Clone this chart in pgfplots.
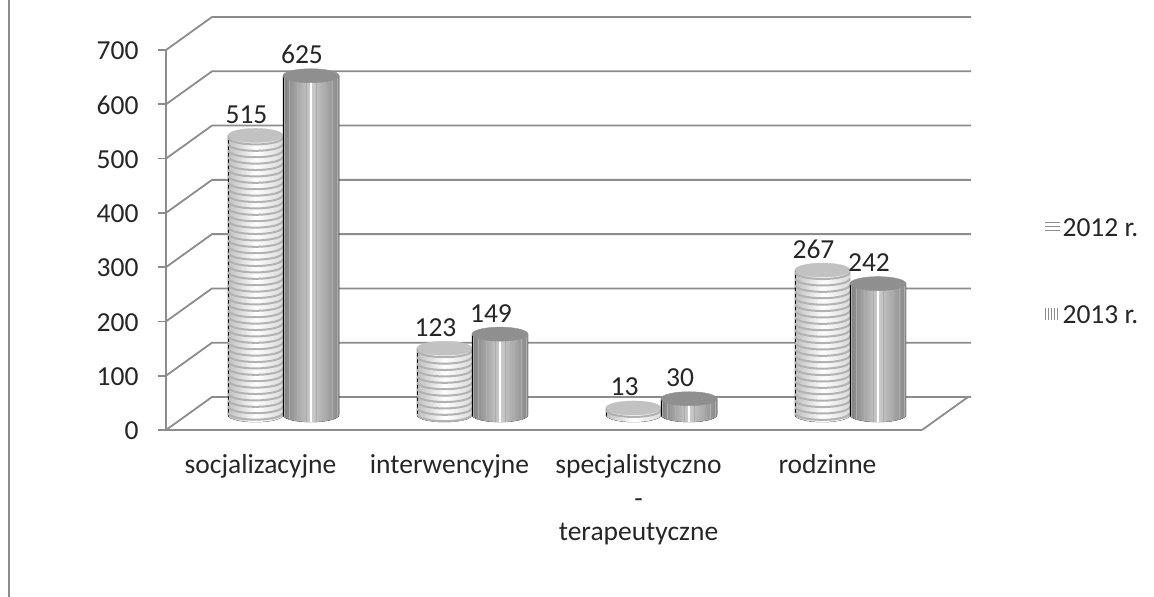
\documentclass[border=0pt]{standalone}
\usepackage{pgfplots}
\usepackage{pgfplotstable}
\usepackage{fontspec}
\setmainfont{Carlito}
\pgfplotsset{compat=1.18}
\definecolor{axisgray}{HTML}{8C8C8C}
\definecolor{txt}{HTML}{262626}
\pgfplotstableread{
x a b
0 515 625
1 123 149
2 13 30
3 267 242
}\chartdata
\pgfdeclareplotmark{cylA}{%
  \pgfmathsetmacro\h{\val*0.5429}%
  \pgfmathtruncatemacro\N{\h/6.4}%
  \begin{scope}
    \clip (-27.5pt,0pt) -- (-27.5pt,-\h pt) arc[start angle=180,end angle=360,x radius=27.5pt,y radius=7pt] -- (27.5pt,0pt) -- cycle;
    \shade[left color=black!25,right color=black!15,middle color=white] (-27.5pt,8pt) rectangle (27.5pt,-\h pt-8pt);
    \foreach \k in {0,...,\N}{%
      \pgfmathsetmacro\y{-\k*6.4-2}%
      \draw[color=black!30,line width=2pt] (-27.5pt,\y pt) arc[start angle=180,end angle=360,x radius=27.5pt,y radius=7pt];
    }
  \end{scope}
  \fill[color=black!24] (0pt,0pt) ellipse[x radius=27.5pt,y radius=7pt];
}
\pgfdeclareplotmark{cylB}{%
  \pgfmathsetmacro\h{\val*0.5429}%
  \begin{scope}
    \clip (-28pt,0pt) -- (-28pt,-\h pt) arc[start angle=180,end angle=360,x radius=28pt,y radius=7pt] -- (28pt,0pt) -- cycle;
    \shade[left color=black!50,right color=black!47,middle color=black!20] (-28pt,8pt) rectangle (28pt,-\h pt-8pt);
    \foreach \a in {20,40,...,160}{%
      \pgfmathsetmacro\xx{28*cos(\a)}%
      \draw[color=black!32,line width=0.6pt] (\xx pt,8pt) -- (\xx pt,-\h pt-8pt);
    }
    \draw[color=white,line width=1.3pt] (0pt,8pt) -- (0pt,-\h pt-8pt);
  \end{scope}
  \fill[color=black!44] (0pt,0pt) ellipse[x radius=28pt,y radius=7pt];
}
\begin{document}
\begin{tikzpicture}[x=1pt,y=1pt]
\useasboundingbox (-166pt,-167pt) rectangle (988pt,430pt);
\begin{axis}[
  at={(0pt,0pt)},anchor=south west,
  scale only axis,width=756pt,height=380pt,
  xmin=-0.5,xmax=3.5,ymin=0,ymax=700,
  clip=false,
  axis x line*=bottom,axis y line*=left,
  axis line style={color=axisgray,line width=1.8pt},
  tick style={color=axisgray,line width=1.8pt},
  major tick length=8pt,
  tick align=outside,
  ytick={0,100,...,700},
  xtick={0,1,2,3},
  xticklabels={socjalizacyjne,interwencyjne,{specjalistyczno\\-\\terapeutyczne},rodzinne},
  x tick style={draw=none},
  extra x ticks={-0.5,0.5,1.5,2.5,3.5},
  extra x tick labels={},
  extra x tick style={tick style={color=axisgray,line width=1.8pt}},
  xticklabel style={align=center,font=\fontsize{27.5}{33.5}\selectfont,color=txt,yshift=-13pt},
  yticklabel style={font=\fontsize{27.5}{30}\selectfont,color=txt,xshift=-16pt,yshift=-1pt},
  /pgf/number format/assume math mode=true,
  legend style={draw=none,fill=none,at={(1.158,0.416)},anchor=west,font=\fontsize{27.5}{30}\selectfont,text=txt,row sep=64pt,/tikz/every even column/.append style={column sep=11pt}},
  legend cell align=left,
]
\pgfplotsinvokeforeach{0,100,...,700}{
  \draw[color=axisgray,line width=1.8pt] (axis cs:-0.5,#1) -- (axis cs:-0.2566,#1+60.8) -- (axis cs:3.76,#1+60.8);
}
\draw[color=axisgray,line width=1.8pt] (axis cs:3.5,0) -- (axis cs:3.7434,60.8);
% series 2012
\addplot[ybar,bar width=55pt,bar shift=0pt,draw=none,fill=white,xshift=-5pt,yshift=15pt,
  legend image code/.code={\draw[xshift=5pt,yshift=-15pt,color=black!45,line width=0.9pt] (0pt,-2pt) -- (15pt,-2pt) (0pt,2pt) -- (15pt,2pt) (0pt,6pt) -- (15pt,6pt);}]
  table[x=x,y=a]{\chartdata};
\addlegendentry{2012 r.}
\addplot[forget plot,scatter,only marks,mark=cylA,xshift=-5pt,yshift=15pt,
  visualization depends on={rawy \as \val},
  nodes near coords,
  nodes near coords align={anchor=center},
  every node near coord/.append style={font=\fontsize{27.5}{30}\selectfont,color=txt,yshift=21pt,xshift=-9pt}]
  table[x=x,y=a]{\chartdata};
% series 2013
\addplot[ybar,bar width=56pt,bar shift=0pt,draw=none,fill=black!30,xshift=50.5pt,yshift=15pt,
  legend image code/.code={\draw[xshift=-50.5pt,yshift=-15pt,color=black!45,line width=0.9pt] (0pt,-4pt) -- (0pt,8pt) (3pt,-4pt) -- (3pt,8pt) (6pt,-4pt) -- (6pt,8pt) (9pt,-4pt) -- (9pt,8pt) (12pt,-4pt) -- (12pt,8pt);}]
  table[x=x,y=b]{\chartdata};
\addlegendentry{2013 r.}
\addplot[forget plot,scatter,only marks,mark=cylB,xshift=50.5pt,yshift=15pt,
  visualization depends on={rawy \as \val},
  nodes near coords,
  nodes near coords align={anchor=center},
  every node near coord/.append style={font=\fontsize{27.5}{30}\selectfont,color=txt,yshift=21pt,xshift=-9pt}]
  table[x=x,y=b]{\chartdata};
\end{axis}
\draw[color=axisgray,line width=2.5pt] (-157pt,-167pt) -- (-157pt,430pt);
\end{tikzpicture}
\end{document}
